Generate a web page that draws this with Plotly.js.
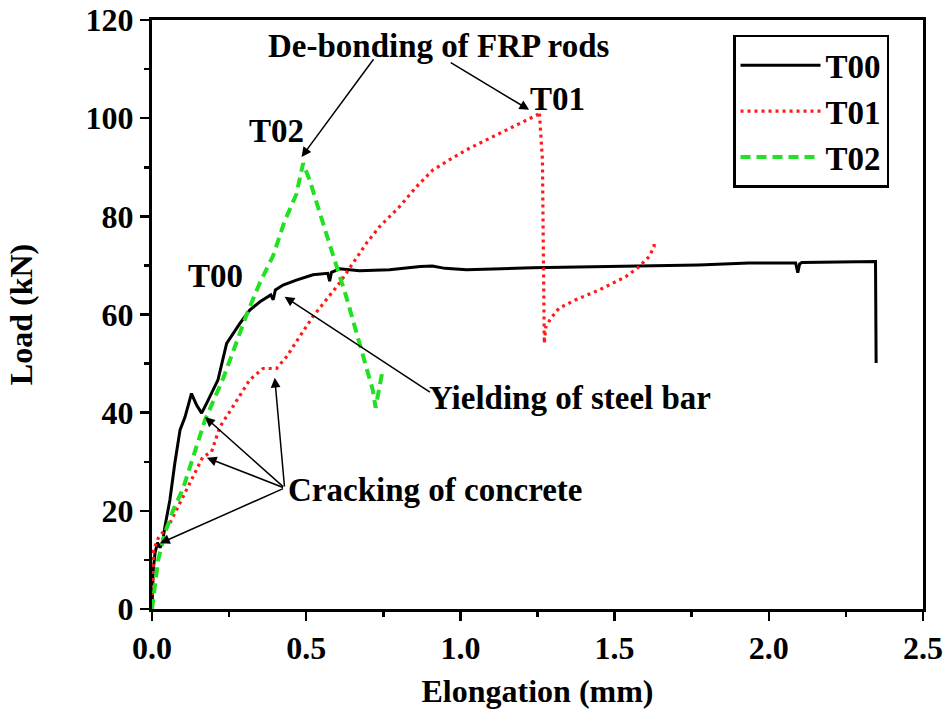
<!DOCTYPE html>
<html>
<head>
<meta charset="utf-8">
<script src="https://cdn.plot.ly/plotly-3.0.1.min.js"></script>
<style>html,body{margin:0;padding:0;background:#fff;}#chart{width:946px;height:719px;}</style>
</head>
<body>
<div id="chart"></div>
<script>
// Specimen T00 (control, steel bar only)
const t00X = [0, 0.004, 0.01, 0.018, 0.026, 0.034, 0.042, 0.058, 0.074, 0.091, 0.107, 0.12, 0.128, 0.145, 0.161, 0.177, 0.198, 0.214, 0.242, 0.285, 0.317, 0.35, 0.385, 0.393, 0.40, 0.425, 0.468, 0.522, 0.57, 0.576, 0.582, 0.608, 0.673, 0.77, 0.87, 0.909, 0.95, 1.02, 1.233, 1.45, 1.773, 1.935, 2.087, 2.094, 2.1, 2.107, 2.346, 2.348];
const t00Y = [0, 8, 11.5, 13.5, 12.5, 13.5, 16.8, 22.2, 29.7, 36.5, 39.1, 42, 43.9, 41.5, 39.9, 41.9, 44.6, 46.7, 54.1, 58.2, 60.9, 62.6, 64.0, 63.0, 65.0, 66.0, 67.0, 68.1, 68.4, 66.8, 68.6, 69.3, 68.9, 69.1, 69.8, 69.9, 69.4, 69.1, 69.5, 69.7, 70.1, 70.5, 70.5, 68.5, 70.3, 70.6, 70.8, 50.1];

// Specimen T01
const t01X = [0, 0.002, 0.005, 0.02, 0.058, 0.074, 0.112, 0.165, 0.193, 0.22, 0.262, 0.317, 0.36, 0.404, 0.436, 0.479, 0.522, 0.565, 0.608, 0.651, 0.695, 0.738, 0.77, 0.803, 0.857, 0.91, 0.964, 1.018, 1.072, 1.126, 1.18, 1.25, 1.256, 1.266, 1.272, 1.277, 1.293, 1.32, 1.374, 1.45, 1.536, 1.579, 1.612, 1.628, 1.628];
const t01Y = [0, 6, 12, 14.4, 17.5, 19.5, 24.2, 31, 32, 37.1, 41.2, 46.7, 49.0, 49.0, 51.4, 55.5, 59.6, 63.0, 66.4, 70.4, 74.5, 77.9, 79.9, 82.0, 86.0, 89.4, 91.5, 93.5, 95.2, 96.9, 98.6, 100.7, 101.3, 91.5, 54.1, 57.5, 59.2, 61.3, 63.0, 65.0, 67.7, 69.7, 71.8, 73.8, 74.8];

// Specimen T02
const t02X = [0, 0.01, 0.02, 0.042, 0.069, 0.101, 0.134, 0.172, 0.231, 0.307, 0.35, 0.393, 0.43, 0.468, 0.49, 0.511, 0.565, 0.63, 0.673, 0.716, 0.725, 0.748];
const t02Y = [0, 5.3, 10, 15.5, 20.2, 24.6, 31.0, 38.5, 47.0, 60.0, 66.5, 72.0, 79.0, 84.5, 90.8, 87.4, 76.5, 63.6, 54.1, 44.6, 41, 48.7];

const seriesNames = ['T00', 'T01', 'T02'];

// Text labels (x, y in data units)
const labelTexts = ['De-bonding of FRP rods', 'T01', 'T02', 'T00', 'Yielding of steel bar', 'Cracking of concrete'];
const labelX = [0.932, 1.314, 0.405, 0.207, 1.356, 0.919];
const labelY = [114.7, 103.9, 97.4, 67.8, 43.0, 24.2];

// Arrows: tail (ax, ay) -> head (hx, hy), data units
const arrowTailX = [0.722, 0.964, 0.906, 0.430, 0.430, 0.430, 0.430];
const arrowTailY = [112.3, 111.5, 44.0, 24.65, 24.65, 24.65, 24.65];
const arrowHeadX = [0.485, 1.223, 0.430, 0.172, 0.178, 0.398, 0.026];
const arrowHeadY = [92.1, 101.7, 63.6, 39.1, 30.8, 47.1, 13.4];

const FONT = 'Liberation Serif, Times New Roman, serif';

const traces = [
  {x: t00X, y: t00Y, name: seriesNames[0], type: 'scatter', mode: 'lines',
   line: {color: '#000000', width: 3}},
  {x: t01X, y: t01Y, name: seriesNames[1], type: 'scatter', mode: 'lines',
   line: {color: '#ff1a1a', width: 3.2, dash: '3px,4px'}},
  {x: t02X, y: t02Y, name: seriesNames[2], type: 'scatter', mode: 'lines',
   line: {color: '#22e022', width: 4, dash: '10px,6px'}}
];

const annotations = [];
for (let i = 0; i < labelTexts.length; i++) {
  annotations.push({x: labelX[i], y: labelY[i], xref: 'x', yref: 'y', text: labelTexts[i],
    showarrow: false, xanchor: 'center', yanchor: 'middle',
    font: {family: FONT, size: 33, color: '#000', weight: 'bold'}});
}
for (let i = 0; i < arrowTailX.length; i++) {
  annotations.push({x: arrowHeadX[i], y: arrowHeadY[i], xref: 'x', yref: 'y',
    ax: arrowTailX[i], ay: arrowTailY[i], axref: 'x', ayref: 'y', text: '',
    showarrow: true, arrowhead: 2, arrowsize: 1.3, arrowwidth: 1.5, arrowcolor: '#000', standoff: 0});
}

const layout = {
  width: 946, height: 719,
  margin: {l: 152, r: 23, t: 20, b: 110},
  paper_bgcolor: '#fff', plot_bgcolor: '#fff',
  font: {family: FONT, color: '#000'},
  showlegend: true,
  legend: {x: 0.7536, y: 0.975, xanchor: 'left', yanchor: 'top',
    bordercolor: '#000', borderwidth: 2.5, bgcolor: '#fff',
    font: {family: FONT, size: 33, weight: 'bold', color: '#000'},
    itemwidth: 80, tracegroupgap: 0},
  xaxis: {range: [0, 2.5], dtick: 0.5, tick0: 0, tickformat: '.1f',
    ticks: 'outside', ticklen: 9, tickwidth: 2.5, tickcolor: '#000',
    showline: true, linewidth: 3, linecolor: '#000', mirror: true,
    showgrid: false, zeroline: false,
    minor: {dtick: 0.25, ticks: 'outside', ticklen: 5, tickwidth: 2.5, tickcolor: '#000'},
    tickfont: {family: FONT, size: 32, weight: 'bold', color: '#000'},
    title: {text: 'Elongation (mm)', font: {family: FONT, size: 32, weight: 'bold', color: '#000'}, standoff: 15}},
  yaxis: {range: [0, 120], dtick: 20, tick0: 0,
    ticks: 'outside', ticklen: 9, tickwidth: 2.5, tickcolor: '#000',
    showline: true, linewidth: 3, linecolor: '#000', mirror: true,
    showgrid: false, zeroline: false,
    minor: {dtick: 10, ticks: 'outside', ticklen: 5, tickwidth: 2.5, tickcolor: '#000'},
    tickfont: {family: FONT, size: 32, weight: 'bold', color: '#000'},
    title: {text: 'Load (kN)', font: {family: FONT, size: 32, weight: 'bold', color: '#000'}, standoff: 44}},
  annotations: annotations
};

Plotly.newPlot('chart', traces, layout, {displayModeBar: false, staticPlot: true});
</script>
</body>
</html>
